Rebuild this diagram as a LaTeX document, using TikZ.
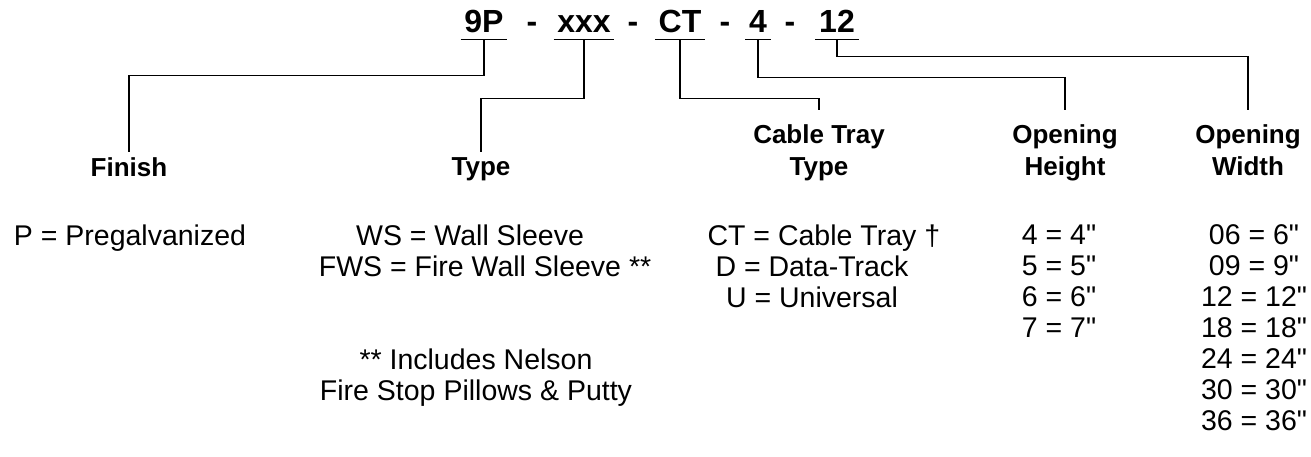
\documentclass[tikz,border=0pt]{standalone}
\usepackage{fontspec}
\newfontfamily\lsans{Liberation Sans}

\begin{document}
\begin{tikzpicture}[x=1pt,y=-1pt,line width=1.5pt,
    code/.style={font=\lsans\bfseries\fontsize{32}{38}\selectfont,
      inner xsep=3pt,inner ysep=6pt,text depth=0pt,anchor=base},
    head/.style={font=\lsans\bfseries\fontsize{26}{32}\selectfont,
      align=center,inner sep=0pt,anchor=north},
    vals/.style={font=\lsans\fontsize{28.5}{31}\selectfont,
      align=center,inner sep=0pt,anchor=north}]

    \useasboundingbox (0,0) rectangle (1311,457);

    % part number
    \node[code] (c9P) at (484,33) {9P};
    \node[code] (d1) at (532,33) {-};
    \node[code] (cxxx) at (584,33) {xxx};
    \node[code] (d2) at (633,33) {-};
    \node[code] (cCT) at (680,33) {CT};
    \node[code] (d3) at (725,33) {-};
    \node[code] (c4) at (758,33) {4};
    \node[code] (d4) at (790,33) {-};
    \node[code] (c12) at (837,33) {12};

    \draw (c9P.south west) -- (c9P.south east);
    \draw (cxxx.south west) -- (cxxx.south east);
    \draw (cCT.south west) -- (cCT.south east);
    \draw (c4.south west) -- (c4.south east);
    \draw (c12.south west) -- (c12.south east);

    % headings
    \node[head] (finish) at (129,157) {Finish};
    \node[head] (type) at (481,157) {Type};
    \node[head] (tray) at (819,124) {Cable Tray\\Type};
    \node[head] (height) at (1065,124) {Opening\\Height};
    \node[head] (width) at (1248,124) {Opening\\Width};

    \draw[shorten >=5pt] (c9P.south) -- ++(0,36) -| (finish.north);
    \draw[shorten >=5pt] (cxxx.south) -- ++(0,59) -| (type.north);
    \draw[shorten >=14pt] (cCT.south) -- ++(0,59) -| (tray.north);
    \draw[shorten >=14pt] (c4.south) -- ++(0,38) -| (height.north);
    \draw[shorten >=14pt] (c12.south) -- ++(0,17) -| (width.north);

    % values
    \node[vals] (finvals) at (130,224) {P = Pregalvanized};
    \node[vals] (typevals) at (470,224) {WS = Wall Sleeve\\FWS = Fire Wall Sleeve\rlap{ **}};
    \node[vals] (note) at (476,348) {** Includes Nelson\\Fire Stop Pillows \& Putty};
    \node[vals] (trayvals) at (812,224) {CT = Cable Tray\rlap{ †}\\D = Data-Track\\U = Universal};
    \node[vals] (heightvals) at (1059,224) {4 = 4"\\5 = 5"\\6 = 6"\\7 = 7"};
    \node[vals] (widthvals) at (1254,224) {06 = 6"\\09 = 9"\\12 = 12"\\18 = 18"\\24 = 24"\\30 = 30"\\36 = 36"};
\end{tikzpicture}
\end{document}
